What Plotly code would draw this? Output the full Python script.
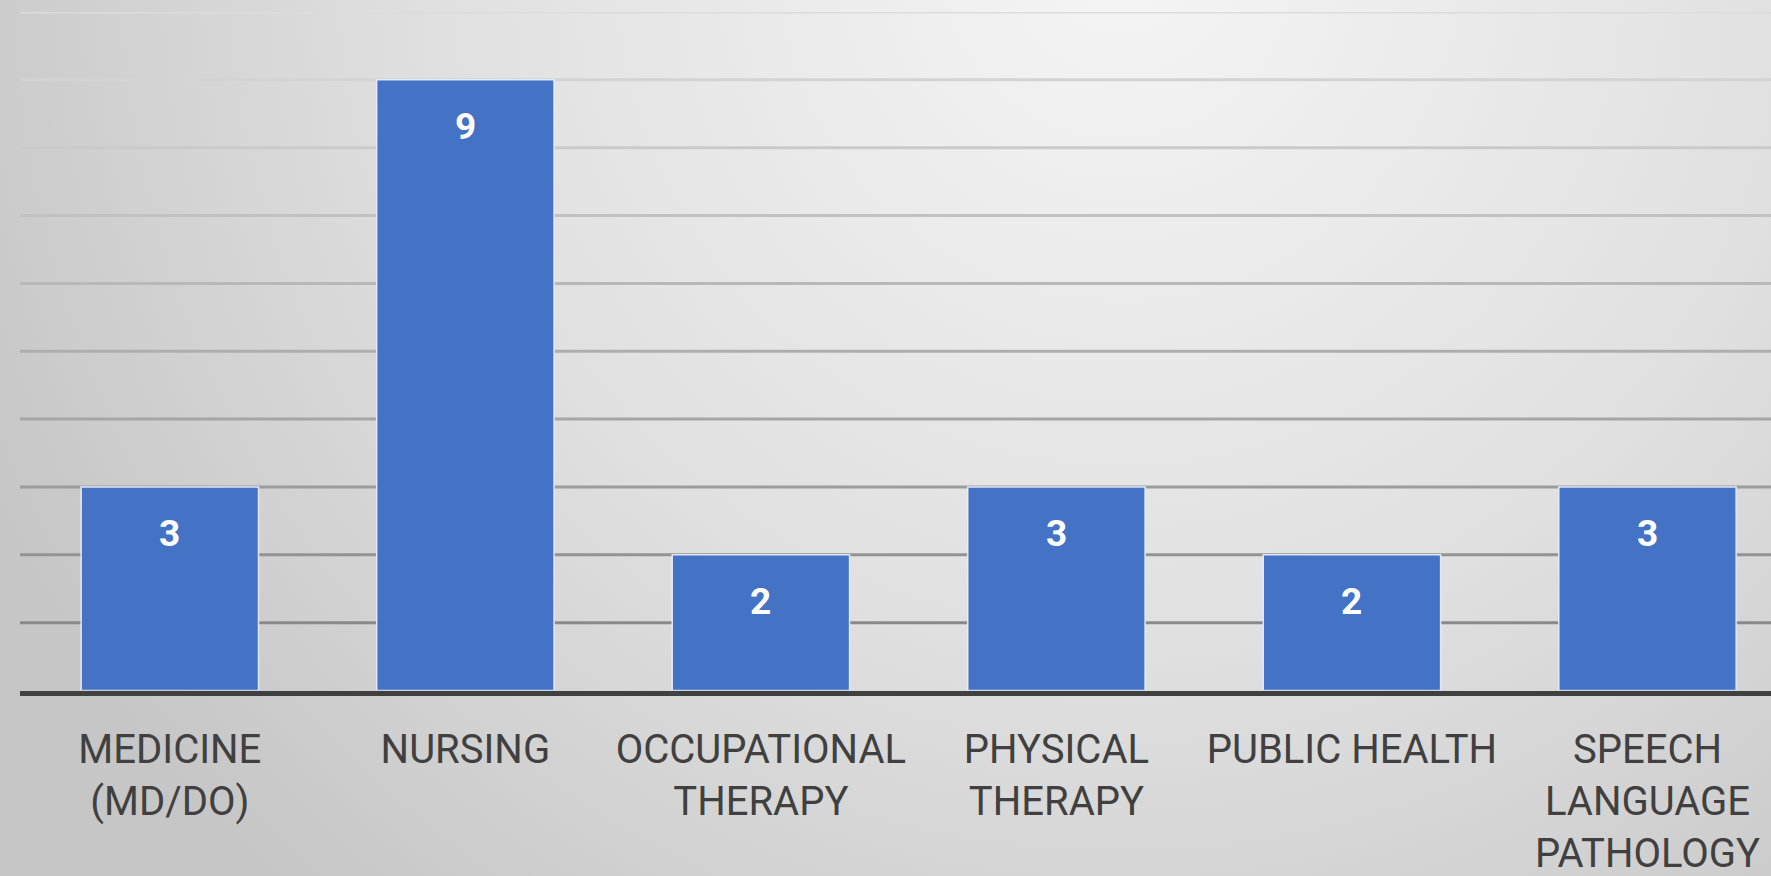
import base64
import plotly.graph_objects as go

# ---- data ----
categories = ["MEDICINE<br>(MD/DO)", "NURSING", "OCCUPATIONAL<br>THERAPY",
              "PHYSICAL<br>THERAPY", "PUBLIC HEALTH", "SPEECH<br>LANGUAGE<br>PATHOLOGY"]
counts = [3, 9, 2, 3, 2, 3]
grid_values = [1, 2, 3, 4, 5, 6, 7, 8, 9, 10]

W, H = 1771, 876

# background radial gradient (decorative)
svg = f'''<svg xmlns="http://www.w3.org/2000/svg" width="{W}" height="{H}" viewBox="0 0 {W} {H}">
<defs><radialGradient id="g" gradientUnits="userSpaceOnUse" cx="1120" cy="-40" r="1250">
<stop offset="0" stop-color="#f5f5f5"/><stop offset="0.55" stop-color="#e0e0e0"/><stop offset="1" stop-color="#c6c6c6"/>
</radialGradient></defs><rect width="{W}" height="{H}" fill="url(#g)"/></svg>'''
bg_src = "data:image/svg+xml;base64," + base64.b64encode(svg.encode()).decode()

x_lo, x_hi = -0.507, 5.418
y_bot = (H - 690.5) / H
y_top = (H - 12) / H

fig = go.Figure()
fig.add_trace(go.Bar(
    x=categories, y=counts, width=0.6,
    marker=dict(color="#4472C4", line=dict(color="rgba(235,240,252,0.9)", width=1.5)),
    hoverinfo="skip",
))

# data labels
for c, v in zip(categories, counts):
    fig.add_annotation(x=c, y=v, text=f"<b>{v}</b>", showarrow=False,
                       yanchor="middle", yshift=-47,
                       font=dict(family="Roboto", size=37, color="white"))

# gridlines with vertical shading (light at top, darker toward bottom)
shapes = []
for v in grid_values:
    g = int(round(138 + (v - 1) * (220 - 138) / 9))
    shapes.append(dict(type="line", xref="x", yref="y", x0=x_lo, x1=x_hi, y0=v, y1=v,
                       line=dict(color=f"rgb({g},{g},{g})", width=3), layer="below"))

fig.update_layout(
    width=W, height=H,
    margin=dict(l=0, r=0, t=0, b=0),
    paper_bgcolor="#d9d9d9",
    plot_bgcolor="rgba(0,0,0,0)",
    showlegend=False,
    shapes=shapes,
    images=[dict(source=bg_src, xref="paper", yref="paper", x=0, y=1, sizex=1, sizey=1,
                 xanchor="left", yanchor="top", sizing="stretch", layer="below")],
    xaxis=dict(domain=[20 / W, 1], range=[x_lo, x_hi], showline=True, linecolor="#404040",
               linewidth=5, ticks="", showgrid=False, automargin=False,
               tickfont=dict(family="Roboto", size=40, color="#404040"),
               ticklabelstandoff=19),
    yaxis=dict(domain=[y_bot, y_top], range=[0, 10], showgrid=False, zeroline=False,
               showticklabels=False, automargin=False),
)

fig.write_html("out.html", config={"displayModeBar": False, "staticPlot": True},
               post_script="document.body.style.margin='0';document.body.style.overflow='hidden';")
